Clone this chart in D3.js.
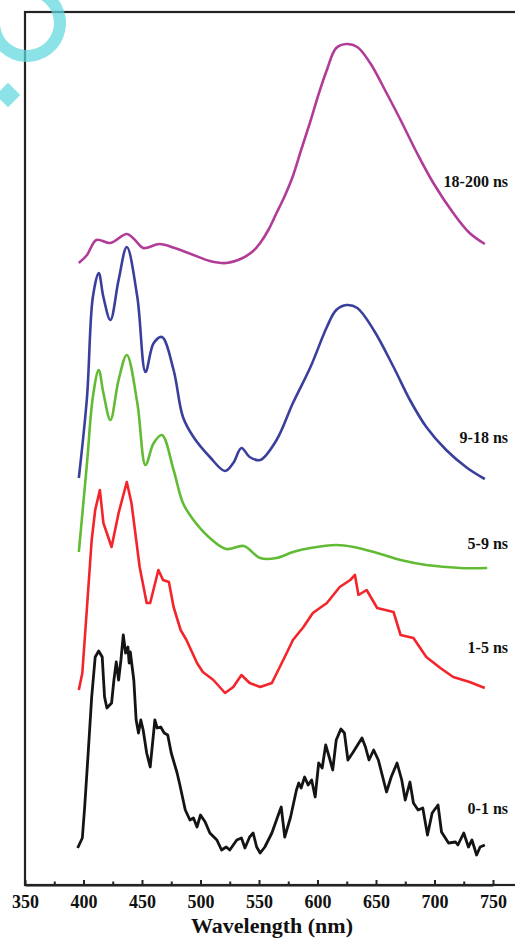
<!DOCTYPE html>
<html>
<head>
<meta charset="utf-8">
<script src="https://cdn.jsdelivr.net/npm/d3@7"></script>
<style>
  html, body { margin: 0; padding: 0; background: #fff; }
  svg { display: block; }
  text { font-family: "Liberation Serif", "Times New Roman", serif; font-weight: bold; fill: #111; }
</style>
</head>
<body>
<div id="app"></div>
<script>
// spectra, stacked with offsets (a.u.)
const wl_18_200 = [396, 403, 411, 423, 437, 444, 451, 465, 478, 494, 508, 522, 536, 545, 551, 558, 565, 572, 579, 586, 594, 601, 608, 616, 625, 634, 645, 659, 671, 685, 699, 716, 730, 743];
const int_18_200 = [622, 630, 645, 642, 651, 645, 637, 641, 637, 630, 624, 622, 627, 634, 642, 655, 672, 689, 709, 735, 764, 791, 815, 837, 841, 838, 822, 792, 765, 732, 702, 672, 652, 641];

const wl_9_18 = [396, 403, 408, 413, 417, 423, 430, 437, 446, 453, 460, 467, 477, 485, 494, 508, 521, 528, 535, 542, 551, 565, 579, 594, 608, 616, 625, 634, 648, 665, 679, 693, 710, 728, 743];
const int_9_18 = [407, 488, 588, 612, 588, 565, 605, 638, 588, 513, 542, 548, 515, 468, 448, 428, 414, 422, 437, 428, 425, 445, 482, 518, 558, 575, 580, 577, 555, 518, 485, 458, 435, 417, 406];

const wl_5_9 = [396, 403, 408, 413, 417, 423, 430, 437, 446, 453, 460, 467, 477, 485, 494, 508, 522, 537, 551, 565, 579, 594, 616, 631, 651, 671, 693, 722, 745];
const int_5_9 = [333, 422, 488, 515, 492, 465, 505, 530, 482, 420, 442, 450, 415, 382, 365, 347, 336, 339, 327, 327, 333, 337, 340, 338, 332, 325, 320, 317, 317];

const wl_1_5 = [396, 399, 403, 407, 410, 414, 417, 424, 430, 437, 441, 448, 454, 457, 464, 468, 473, 477, 483, 488, 497, 502, 511, 521, 528, 535, 542, 551, 561, 572, 579, 588, 596, 608, 619, 628, 632, 635, 642, 651, 665, 671, 682, 693, 705, 716, 730, 743];
const int_1_5 = [195, 212, 278, 345, 375, 395, 362, 338, 372, 403, 382, 318, 282, 282, 315, 305, 303, 278, 255, 245, 222, 213, 205, 192, 198, 210, 202, 198, 202, 228, 245, 258, 272, 282, 298, 305, 310, 290, 295, 277, 273, 250, 247, 228, 217, 208, 203, 197];

const wl_0_1 = [395, 399, 401, 404, 407, 410, 413, 416, 418, 420, 424, 426, 428, 430, 432, 434, 436, 438, 439, 440, 443, 445, 447, 449, 451, 454, 457, 461, 463, 466, 469, 472, 475, 480, 482, 487, 491, 494, 497, 500, 504, 508, 514, 518, 522, 525, 531, 535, 538, 542, 545, 548, 551, 555, 561, 568, 569, 572, 577, 582, 584, 586, 589, 592, 595, 598, 601, 604, 607, 610, 613, 616, 620, 623, 626, 630, 638, 641, 644, 648, 652, 659, 663, 668, 672, 675, 679, 682, 686, 690, 694, 698, 703, 706, 712, 718, 720, 725, 729, 732, 736, 739, 743];
const int_0_1 = [37, 47, 78, 132, 188, 228, 234, 228, 188, 177, 182, 205, 223, 205, 225, 250, 232, 238, 222, 233, 205, 165, 152, 165, 155, 132, 118, 165, 157, 158, 152, 150, 132, 112, 102, 75, 65, 67, 58, 70, 63, 52, 45, 35, 38, 35, 45, 47, 37, 48, 52, 38, 32, 38, 52, 75, 78, 48, 68, 95, 102, 97, 108, 100, 105, 88, 122, 117, 140, 128, 115, 145, 156, 152, 125, 132, 147, 138, 125, 135, 125, 93, 108, 122, 105, 85, 103, 82, 75, 77, 50, 72, 80, 53, 42, 43, 40, 52, 38, 45, 30, 38, 40];

const seriesNames = ["18-200 ns", "9-18 ns", "5-9 ns", "1-5 ns", "0-1 ns"];
const seriesColors = ["#b13c98", "#3a3f9c", "#62bb35", "#f3252a", "#141414"];
const seriesWl = [wl_18_200, wl_9_18, wl_5_9, wl_1_5, wl_0_1];
const seriesInt = [int_18_200, int_9_18, int_5_9, int_1_5, int_0_1];
const labelLevels = [704, 448, 342, 238, 77];

const majorTicks = [350, 400, 450, 500, 550, 600, 650, 700, 750];
const minorTicks = [375, 425, 475, 525, 575, 625, 675, 725];

const width = 515;
const height = 942;
const margin = { top: 12, left: 25, bottom: 57 };

const x = d3.scaleLinear().domain([350, 750]).range([margin.left, 493]);
const y = d3.scaleLinear().domain([0, 873]).range([height - margin.bottom, margin.top]);

const svg = d3
  .select("#app")
  .append("svg")
  .attr("width", width)
  .attr("height", height);

// smooth vs noisy traces
const smoothLine = d3
  .line()
  .x((d) => x(d[0]))
  .y((d) => y(d[1]))
  .curve(d3.curveCatmullRom.alpha(0.5));

const rawLine = d3
  .line()
  .x((d) => x(d[0]))
  .y((d) => y(d[1]));

seriesNames.forEach((name, i) => {
  const pts = seriesWl[i].map((w, j) => [w, seriesInt[i][j]]);
  svg
    .append("path")
    .attr("d", i < 3 ? smoothLine(pts) : rawLine(pts))
    .attr("fill", "none")
    .attr("stroke", seriesColors[i])
    .attr("stroke-width", i === 4 ? 2.8 : 2.6)
    .attr("stroke-linejoin", "round");

  svg
    .append("text")
    .attr("x", 508)
    .attr("y", y(labelLevels[i]))
    .attr("dy", "0.35em")
    .attr("text-anchor", "end")
    .style("font-size", "16px")
    .text(name);
});

// frame: top and left edges (right edge falls outside the picture)
svg
  .append("rect")
  .attr("x", x(350))
  .attr("y", y(873))
  .attr("width", x(775) - x(350))
  .attr("height", y(0) - y(873))
  .attr("fill", "none")
  .attr("stroke", "#222")
  .attr("stroke-width", 2.2);

const xAxis = svg
  .append("g")
  .attr("transform", `translate(0, ${y(0)})`)
  .call(
    d3.axisBottom(x).tickValues(majorTicks).tickSize(-5).tickSizeOuter(0).tickPadding(10)
  );

xAxis.select(".domain").attr("stroke", "#222").attr("stroke-width", 2.2);
xAxis.selectAll(".tick line").attr("stroke", "#222").attr("stroke-width", 2);
xAxis
  .selectAll(".tick text")
  .style("font-size", "18px")
  .style("font-family", '"Liberation Serif", "Times New Roman", serif')
  .style("font-weight", "bold")
  .attr("fill", "#111");

svg
  .append("g")
  .attr("transform", `translate(0, ${y(0)})`)
  .call(d3.axisBottom(x).tickValues(minorTicks).tickSize(-3.5).tickFormat(""))
  .call((g) => g.select(".domain").remove())
  .selectAll(".tick line")
  .attr("stroke", "#222")
  .attr("stroke-width", 2);

svg
  .append("text")
  .attr("x", 272)
  .attr("y", 933)
  .attr("text-anchor", "middle")
  .style("font-size", "22px")
  .text("Wavelength (nm)");

// cyan watermark fragment in the corner
const mark = svg.append("g").attr("fill", "#5fd8de").attr("opacity", 0.72);
mark
  .append("path")
  .attr("transform", "translate(27, 23)")
  .attr(
    "d",
    d3.arc()({ innerRadius: 27, outerRadius: 39, startAngle: (22 * Math.PI) / 180, endAngle: (262 * Math.PI) / 180 })
  );
mark
  .append("path")
  .attr("transform", "translate(8, 95) rotate(45)")
  .attr("d", d3.symbol(d3.symbolSquare, 300)());
</script>
</body>
</html>
